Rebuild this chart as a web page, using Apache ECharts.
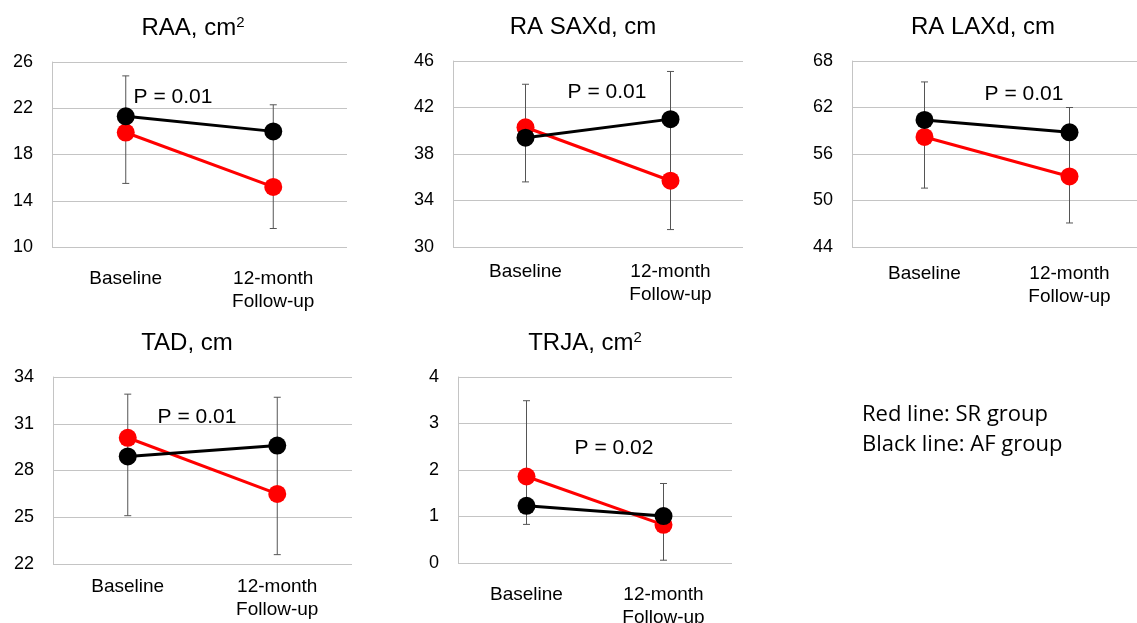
<!DOCTYPE html>
<html>
<head>
<meta charset="utf-8">
<script src="https://cdn.jsdelivr.net/npm/echarts@6/dist/echarts.min.js"></script>
<style>
  html, body { margin: 0; padding: 0; background: #fff; }
  #chart { width: 1137px; height: 623px; }
</style>
</head>
<body>
<div id="chart"></div>
<script>
// categories
const categories = ['Baseline', '12-month\nFollow-up']

// panel titles (main part + superscript)
const titles = [['RAA, cm', '2'], ['RA SAXd, cm', ''], ['RA LAXd, cm', ''], ['TAD, cm', ''], ['TRJA, cm', '2']]
const pValues = ['P = 0.01', 'P = 0.01', 'P = 0.01', 'P = 0.01', 'P = 0.02']

// y tick labels per panel
const yTicks = [
  [10, 14, 18, 22, 26],
  [30, 34, 38, 42, 46],
  [44, 50, 56, 62, 68],
  [22, 25, 28, 31, 34],
  [0, 1, 2, 3, 4]
]

// SR group (red) and AF group (black): [baseline, follow-up]
const srValues = [[19.9, 15.2], [40.3, 35.7], [58.2, 53.1], [30.1, 26.5], [1.86, 0.82]]
const afValues = [[21.3, 20.0], [39.4, 41.0], [60.4, 58.8], [28.9, 29.6], [1.23, 1.01]]

// error bar ends: [baseline, follow-up]
const errLow = [[15.5, 11.6], [35.6, 31.5], [51.6, 47.1], [25.1, 22.6], [0.83, 0.06]]
const errHigh = [[24.8, 22.3], [44.0, 45.1], [65.3, 62.0], [32.9, 32.7], [3.49, 1.71]]

const legendLines = ['Red line: SR group', 'Black line: AF group']

// layout (pixels)
const grids = [
  { left: 52, top: 62, width: 295, height: 185 },
  { left: 453, top: 61, width: 290, height: 186 },
  { left: 852, top: 61, width: 290, height: 186 },
  { left: 53, top: 377, width: 299, height: 187 },
  { left: 458, top: 377, width: 274, height: 186 }
]
const xLabelMargin = [20, 13, 15, 11, 20]
const titlePos = [[193, 28], [583, 27], [983, 27], [187, 343], [585, 343]]
const pPos = [[173, 97], [607, 92], [1024, 94], [197, 417], [614, 448]]

const FONT = '"Liberation Sans", Arial, sans-serif'
const GRID_COLOR = '#c4c4c4'

let chart = echarts.init(document.getElementById('chart'))

let option = {
  animation: false,
  backgroundColor: '#fff',
  grid: grids.map(g => Object.assign({ outerBoundsMode: 'none', containLabel: false }, g)),
  xAxis: grids.map((g, i) => ({
    gridIndex: i,
    type: 'category',
    data: categories,
    boundaryGap: true,
    axisLine: { show: false },
    axisTick: { show: false },
    axisLabel: {
      interval: 0,
      color: '#000',
      fontFamily: FONT,
      fontSize: 19,
      lineHeight: 23,
      margin: xLabelMargin[i],
      verticalAlign: 'top'
    }
  })),
  yAxis: grids.map((g, i) => ({
    gridIndex: i,
    type: 'value',
    min: yTicks[i][0],
    max: yTicks[i][yTicks[i].length - 1],
    axisLine: { show: true, lineStyle: { color: GRID_COLOR, width: 1 } },
    axisTick: { show: false, customValues: yTicks[i] },
    axisLabel: {
      customValues: yTicks[i],
      color: '#000',
      fontFamily: FONT,
      fontSize: 18,
      margin: 19
    },
    splitLine: { show: true, lineStyle: { color: GRID_COLOR, width: 1 } }
  })),
  series: [],
  graphic: []
}

grids.forEach((g, i) => {
  option.series.push({
    type: 'custom',
    xAxisIndex: i,
    yAxisIndex: i,
    z: 1,
    data: [[0, errLow[i][0], errHigh[i][0]], [1, errLow[i][1], errHigh[i][1]]],
    encode: { x: 0, y: [1, 2] },
    renderItem (params, api) {
      let idx = api.value(0)
      let lo = api.coord([idx, api.value(1)])
      let hi = api.coord([idx, api.value(2)])
      let w = 3.5
      let st = { stroke: '#555', lineWidth: 1 }
      return {
        type: 'group',
        children: [
          { type: 'line', shape: { x1: lo[0], y1: lo[1], x2: hi[0], y2: hi[1] }, style: st },
          { type: 'line', shape: { x1: lo[0] - w, y1: lo[1], x2: lo[0] + w, y2: lo[1] }, style: st },
          { type: 'line', shape: { x1: hi[0] - w, y1: hi[1], x2: hi[0] + w, y2: hi[1] }, style: st }
        ]
      }
    }
  })
  option.series.push({
    name: 'SR group',
    type: 'line',
    xAxisIndex: i,
    yAxisIndex: i,
    z: 2,
    data: srValues[i],
    symbol: 'circle',
    symbolSize: 18,
    itemStyle: { color: '#ff0000' },
    lineStyle: { color: '#ff0000', width: 3 }
  })
  option.series.push({
    name: 'AF group',
    type: 'line',
    xAxisIndex: i,
    yAxisIndex: i,
    z: 3,
    data: afValues[i],
    symbol: 'circle',
    symbolSize: 18,
    itemStyle: { color: '#000000' },
    lineStyle: { color: '#000000', width: 3 }
  })

  // panel title with superscript
  let t = titles[i]
  option.graphic.push({
    type: 'text',
    x: titlePos[i][0],
    y: titlePos[i][1],
    style: {
      text: '{m|' + t[0] + '}' + (t[1] ? '{s|' + t[1] + '}' : ''),
      align: 'center',
      verticalAlign: 'middle',
      rich: {
        m: { fontFamily: FONT, fontSize: 24, color: '#000', lineHeight: 26 },
        s: { fontFamily: FONT, fontSize: 15, color: '#000', verticalAlign: 'top', lineHeight: 26 }
      }
    }
  })
  // p value
  option.graphic.push({
    type: 'text',
    x: pPos[i][0],
    y: pPos[i][1],
    style: {
      text: pValues[i],
      align: 'center',
      verticalAlign: 'middle',
      fontFamily: FONT,
      fontSize: 21,
      fill: '#000'
    }
  })
})

legendLines.forEach((txt, k) => {
  option.graphic.push({
    type: 'text',
    x: 862,
    y: 415 + k * 30,
    style: {
      text: txt,
      align: 'left',
      verticalAlign: 'middle',
      fontFamily: '"Open Sans", "Noto Sans", sans-serif',
      fontSize: 22,
      fill: '#000'
    }
  })
})

option && chart.setOption(option)
window.addEventListener('resize', () => {
  chart.resize()
})
</script>
</body>
</html>
